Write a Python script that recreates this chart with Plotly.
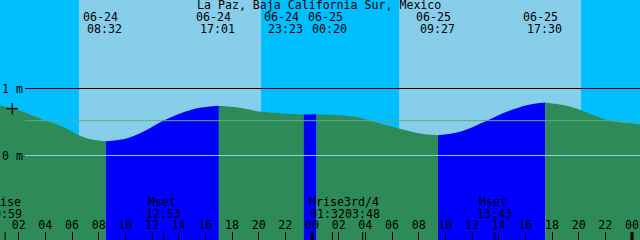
import plotly.graph_objects as go

# ---------------- data ----------------
# hours since 06-24 00:00 (local), heights in metres
CURVE_T = [0.60, 2.10, 3.60, 4.10, 5.60, 6.53, 7.60, 10.10, 11.33, 12.85, 14.10, 15.60,
           18.60, 20.18, 21.83, 26.10, 27.60, 28.35, 30.53, 32.10, 35.10, 37.10, 38.60,
           40.10, 43.10, 44.18, 46.35, 48.60]
CURVE_H = [0.742, 0.672, 0.552, 0.518, 0.403, 0.303, 0.234, 0.254, 0.354, 0.518, 0.627, 0.712,
           0.712, 0.652, 0.627, 0.601, 0.567, 0.518, 0.403, 0.328, 0.354, 0.518, 0.652,
           0.751, 0.742, 0.676, 0.518, 0.463]

TIDE_T = [0.0, 8.533, 17.017, 23.383, 24.333, 33.45, 41.5, 49.0]
TIDE_H = [0.75, 0.213, 0.742, 0.612, 0.615, 0.303, 0.791, 0.44]
TIDE_KIND = ["H", "L", "H", "L", "H", "L", "H", "L"]
TIDE_DATE = ["06-24", "06-24", "06-24", "06-24", "06-25", "06-25", "06-25", "06-26"]
TIDE_TIME = ["00:00", "08:32", "17:01", "23:23", "00:20", "09:27", "17:30", "01:00"]

SUNRISE = [6.52, 30.53]
SUNSET = [20.18, 44.18]

MOON_T = [0.983, 12.883, 25.533, 27.8, 37.717]
MOON_NAME = ["Mrise", "Mset", "Mrise", "3rd/4", "Mset"]
MOON_TIME = ["00:59", "12:53", "01:32", "03:48", "13:43"]

HOUR_TICKS = [2, 4, 6, 8, 10, 12, 14, 16, 18, 20, 22, 24,
              26, 28, 30, 32, 34, 36, 38, 40, 42, 44, 46, 48]
HOUR_LABELS = ["02", "04", "06", "08", "10", "12", "14", "16", "18", "20", "22", "00",
               "02", "04", "06", "08", "10", "12", "14", "16", "18", "20", "22", "00"]
MIDNIGHTS = [24, 48]

LEVELS = [0.0, 1.0]
LEVEL_LABELS = ["0 m", "1 m"]
MSL = 0.52
MARK_T, MARK_H = [1.52], [0.70]

TITLE = "La Paz, Baja California Sur, Mexico"

# ---------------- styling ----------------
W, H = 640, 240
X_RANGE = [0.6, 48.6]
Y_RANGE = [-1.2612, 2.3209]
PPH = W / (X_RANGE[1] - X_RANGE[0])
FONT = dict(family="DejaVu Sans Mono", size=11.6, color="black")
NIGHT, DAY = "#00BFFF", "#87CEEB"
RISE, FALL = "#0000FF", "#2E8B57"

fig = go.Figure()

# merge samples and extremes
pts = sorted(list(zip(CURVE_T, CURVE_H)) + list(zip(TIDE_T, TIDE_H)))
ybot = Y_RANGE[0] - 0.2
for i in range(len(TIDE_T) - 1):
    t0, t1 = TIDE_T[i], TIDE_T[i + 1]
    seg = [p for p in pts if t0 <= p[0] <= t1]
    color = RISE if TIDE_KIND[i] == "L" else FALL
    fig.add_trace(go.Scatter(x=[t0, t1], y=[ybot, ybot], mode="lines",
                             line=dict(width=0), hoverinfo="skip", showlegend=False))
    fig.add_trace(go.Scatter(x=[p[0] for p in seg], y=[p[1] for p in seg], mode="lines",
                             line=dict(width=0, shape="spline", color=color),
                             fill="tonexty", fillcolor=color,
                             hoverinfo="skip", showlegend=False))

fig.add_trace(go.Scatter(x=MARK_T, y=MARK_H, mode="markers",
                         marker=dict(symbol="cross-thin", size=8, color="black",
                                     line=dict(color="black", width=1.2)),
                         hoverinfo="skip", showlegend=False))

shapes = []
for a, b in zip(SUNRISE, SUNSET):
    shapes.append(dict(type="rect", xref="x", yref="paper", x0=a, x1=b, y0=0, y1=1,
                       fillcolor=DAY, line=dict(width=0), layer="below"))
shapes.append(dict(type="line", xref="paper", yref="y", x0=25 / W, x1=1, y0=MSL, y1=MSL,
                   line=dict(color="#5FA98B", width=1)))
shapes.append(dict(type="line", xref="paper", yref="y", x0=25 / W, x1=1, y0=LEVELS[0], y1=LEVELS[0],
                   line=dict(color="#8CCFE2", width=1)))
shapes.append(dict(type="line", xref="paper", yref="y", x0=25 / W, x1=1, y0=LEVELS[1], y1=LEVELS[1],
                   line=dict(color="black", width=1)))
for m in MIDNIGHTS:
    shapes.append(dict(type="line", xref="x", yref="paper", x0=m, x1=m, y0=0, y1=8 / H,
                       line=dict(color="black", width=3)))
for t in MOON_T:
    shapes.append(dict(type="line", xref="x", yref="paper", x0=t, x1=t, y0=0, y1=8 / H,
                       line=dict(color="black", width=1)))


def spread(ts, minsep, share_left):
    px = [(t - X_RANGE[0]) * PPH for t in ts]
    sh = [0.0] * len(ts)
    for i in range(len(ts) - 1):
        gap = (px[i + 1] + sh[i + 1]) - (px[i] + sh[i])
        if gap < minsep:
            d = minsep - gap
            sh[i] -= d * share_left
            sh[i + 1] += d * (1 - share_left)
    return sh


def py(p):
    return 1 - p / H


ann = []
ann.append(dict(text=TITLE, xref="paper", yref="paper", x=0.5, y=py(5.4), xshift=-1,
                xanchor="center", yanchor="middle", showarrow=False, font=FONT))
top_sh = spread(TIDE_T, 44, 0.54)
for t, d, tm, s in zip(TIDE_T, TIDE_DATE, TIDE_TIME, top_sh):
    ann.append(dict(text=d, xref="x", yref="paper", x=t, y=py(17), xshift=s - 5,
                    xanchor="center", yanchor="middle", showarrow=False, font=FONT))
    ann.append(dict(text=tm, xref="x", yref="paper", x=t, y=py(29), xshift=s - 1,
                    xanchor="center", yanchor="middle", showarrow=False, font=FONT))
bot_sh = spread(MOON_T, 35, 1.0)
for t, n, tm, s in zip(MOON_T, MOON_NAME, MOON_TIME, bot_sh):
    ann.append(dict(text=n, xref="x", yref="paper", x=t, y=py(201.7), xshift=s - 1.5,
                    xanchor="center", yanchor="middle", showarrow=False, font=FONT))
    ann.append(dict(text=tm, xref="x", yref="paper", x=t, y=py(213.8), xshift=s - 0.5,
                    xanchor="center", yanchor="middle", showarrow=False, font=FONT))
for lv, lab in zip(LEVELS, LEVEL_LABELS):
    ann.append(dict(text=lab, xref="paper", yref="y", x=0, y=lv,
                    xanchor="left", yanchor="middle", showarrow=False, font=FONT))

fig.update_layout(
    width=W, height=H, margin=dict(l=0, r=0, t=0, b=0),
    paper_bgcolor=NIGHT, plot_bgcolor=NIGHT, showlegend=False,
    shapes=shapes, annotations=ann,
    xaxis=dict(range=X_RANGE, tickvals=HOUR_TICKS, ticktext=HOUR_LABELS,
               ticks="inside", ticklen=8, tickwidth=1, tickcolor="black",
               ticklabelposition="inside", tickfont=FONT,
               showgrid=False, zeroline=False, showline=False, fixedrange=True),
    yaxis=dict(range=Y_RANGE, visible=False, fixedrange=True),
)

fig.write_html("out.html", config={"displayModeBar": False})
